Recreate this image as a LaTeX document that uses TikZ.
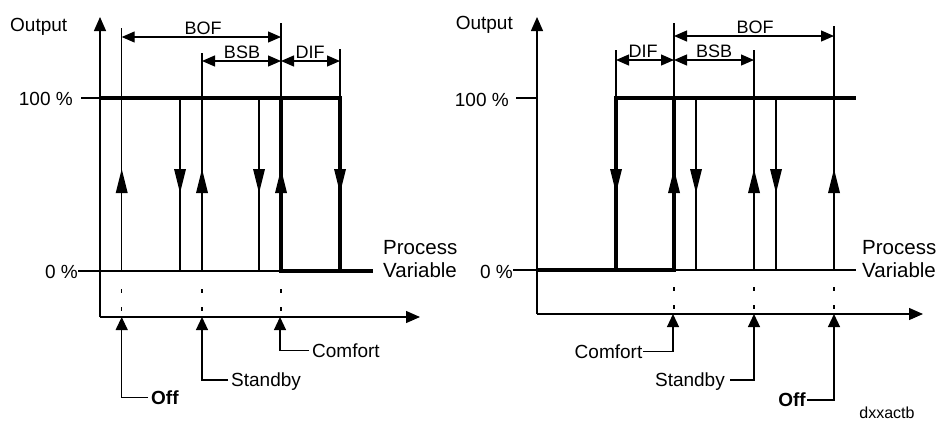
\documentclass[tikz,border=0pt]{standalone}
\usepackage{fontspec}
\setmainfont{Liberation Sans}
\usetikzlibrary{arrows.meta}
\newcommand\upmk[1]{\fill (#1,169) -- ++(-6,24) -- ++(12,0) -- cycle;}
\newcommand\dnmk[1]{\fill (#1,193) -- ++(-6,-24) -- ++(12,0) -- cycle;}
\begin{document}
\begin{tikzpicture}[x=1pt,y=-1pt,
  lthin/.style={line width=1.2pt},
  lthick/.style={line width=4pt, line join=miter},
  axisln/.style={line width=1.3pt, -{Triangle[length=14pt,width=12pt]}},
  dimln/.style={line width=1.2pt, {Triangle[length=13pt,width=11pt]}-{Triangle[length=13pt,width=11pt]}},
  dotv/.style={line width=1.2pt, dash pattern=on 3.5pt off 14.5pt},
  pointer/.style={line width=1.2pt, -{Triangle[length=13pt,width=12pt]}},
  lbl/.style={font=\fontsize{19}{23}\selectfont, inner sep=0pt},
  pvlbl/.style={font=\fontsize{20.5}{23}\selectfont, inner sep=0pt, anchor=west, align=left},
  clbl/.style={lbl, inner xsep=3pt, text height=13.6pt, text depth=0pt},
  dlbl/.style={font=\fontsize{18}{22}\selectfont, inner sep=0pt, anchor=base}]
\useasboundingbox (0,0) rectangle (939,421);
% ================= LEFT =================
\coordinate (L-o) at (100,317);
\coordinate (L-ytop) at (100,17);
\coordinate (L-xend) at (420,317);
\draw[axisln] (L-o) -- (L-ytop);
\draw[axisln] (L-o) -- (L-xend);
\node[lbl, anchor=base west] (L-out) at (10,31) {Output};
\node[lbl, anchor=base east] (L-100) at (73,105) {100 \%};
\node[lbl, anchor=base east] (L-0) at (78,278) {0 \%};
\draw[lthin] (81,98) -- (100,98);
\draw[lthin] (78,271) -- (281,271);
% thin verticals
\draw[lthin] (121.7,28) -- (121.7,271);
\draw[lthin] (180,98) -- (180,271);
\draw[lthin] (202,53) -- (202,271);
\draw[lthin] (259,98) -- (259,271);
\draw[lthin] (281,23) -- (281,98);
\draw[lthin] (340,49) -- (340,98);
% thick characteristic
\draw[lthick] (100,98) -- (340,98) -- (340,271);
\draw[lthick] (281,98) -- (281,271) -- (373,271);
\upmk{121.7} \dnmk{180} \upmk{202} \dnmk{259} \upmk{281} \dnmk{340}
% dimensions
\coordinate (L-b1) at (121.7,37); \coordinate (L-b2) at (281,37);
\coordinate (L-s1) at (202,61); \coordinate (L-s2) at (281,61);
\coordinate (L-d2) at (340,61);
\draw[dimln] (L-b1) -- (L-b2);
\draw[dimln] (L-s1) -- (L-s2);
\draw[dimln] (L-s2) -- (L-d2);
\node[dlbl] (L-bof) at (203,34.5) {BOF};
\node[dlbl] (L-bsb) at (242,58.5) {BSB};
\node[dlbl] (L-dif) at (310,58.5) {DIF};
\node[pvlbl] (L-pv) at (383,259.5) {Process\\Variable};
% dotted drops
\foreach \x in {121.7,202,281} \draw[dotv] (\x,289) -- (\x,317);
% pointers
\coordinate (L-a1) at (121.7,317);
\coordinate (L-a2) at (202,317);
\coordinate (L-a3) at (280,317);
\node[clbl, anchor=west] (L-off) at (148,397.5) {\textbf{Off}};
\node[clbl, anchor=west] (L-stb) at (228,380) {Standby};
\node[clbl, anchor=west] (L-com) at (309,350.7) {Comfort};
\draw[pointer] (L-off.west) -| (L-a1);
\draw[pointer] (L-stb.west) -| (L-a2);
\draw[pointer] (L-com.west) -| (L-a3);
% ================= RIGHT =================
\coordinate (R-o) at (537,314);
\coordinate (R-ytop) at (537,17);
\coordinate (R-xend) at (923,314);
\draw[axisln] (R-o) -- (R-ytop);
\draw[axisln] (R-o) -- (R-xend);
\node[lbl, anchor=base east] (R-out) at (513,29) {Output};
\node[lbl, anchor=base east] (R-100) at (509,106) {100 \%};
\node[lbl, anchor=base east] (R-0) at (513,278) {0 \%};
\draw[lthin] (516,98) -- (537,98);
\draw[lthin] (513,270) -- (537,270);
\draw[lthin] (674,270) -- (856,270);
% thin verticals
\draw[lthin] (616,50) -- (616,98);
\draw[lthin] (674,23) -- (674,98);
\draw[lthin] (696,98) -- (696,270);
\draw[lthin] (754,50) -- (754,270);
\draw[lthin] (776,98) -- (776,270);
\draw[lthin] (834,26) -- (834,270);
% thick characteristic
\draw[lthick] (537,270) -- (674,270) -- (674,98);
\draw[lthick] (616,270) -- (616,98) -- (856,98);
\dnmk{616} \upmk{674} \dnmk{696} \upmk{754} \dnmk{776} \upmk{834}
% dimensions
\coordinate (R-b1) at (674,36); \coordinate (R-b2) at (834,36);
\coordinate (R-d1) at (616,60); \coordinate (R-d2) at (674,60);
\coordinate (R-s2) at (754,60);
\draw[dimln] (R-b1) -- (R-b2);
\draw[dimln] (R-d1) -- (R-d2);
\draw[dimln] (R-d2) -- (R-s2);
\node[dlbl] (R-bof) at (755,33.5) {BOF};
\node[dlbl] (R-dif) at (643,57.5) {DIF};
\node[dlbl] (R-bsb) at (714,57.5) {BSB};
\node[pvlbl] (R-pv) at (862,259) {Process\\Variable};
% dotted drops
\foreach \x in {674,754,834} \draw[dotv] (\x,287) -- (\x,314);
% pointers
\coordinate (R-a1) at (673,314);
\coordinate (R-a2) at (754,314);
\coordinate (R-a3) at (834,314);
\node[clbl, anchor=east, inner xsep=0.5pt] (R-com) at (643,351.7) {Comfort};
\node[clbl, anchor=east, inner xsep=5pt] (R-stb) at (730,380) {Standby};
\node[clbl, anchor=east, inner xsep=1pt] (R-off) at (807,400) {\textbf{Off}};
\draw[pointer] (R-com.east) -| (R-a1);
\draw[pointer] (R-stb.east) -| (R-a2);
\draw[pointer] (R-off.east) -| (R-a3);
\node[font=\fontsize{16}{19}\selectfont, inner sep=0pt, anchor=base] (code) at (887,418) {dxxactb};
\end{tikzpicture}
\end{document}
